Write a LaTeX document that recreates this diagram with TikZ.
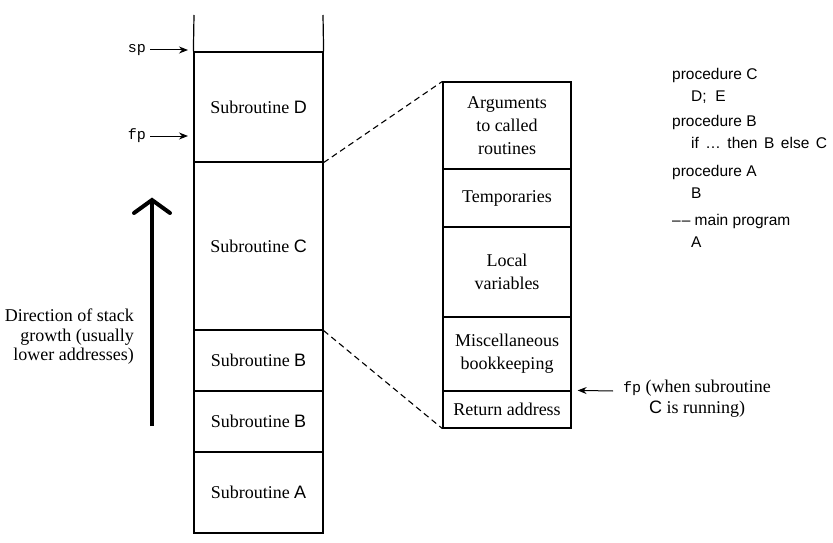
\documentclass[tikz,border=0pt]{standalone}
\usepackage{fontspec}
\setmainfont{Liberation Serif}
\setsansfont{Liberation Sans}
\setmonofont{Liberation Mono}
\usetikzlibrary{arrows.meta}
\tikzset{
  frame/.style={draw, line width=1.2pt, rectangle, inner sep=0pt, align=center,
                font=\fontsize{18}{23}\selectfont},
  lstack/.style={frame, minimum width=129pt},
  rstack/.style={frame, minimum width=128pt},
  ptr/.style={line width=1pt, -{Stealth[length=9pt,width=7pt]}},
  zoomline/.style={line width=1.1pt, dashed, dash pattern=on 6pt off 4pt},
  code/.style={anchor=base west, inner sep=0pt, font=\sffamily\fontsize{15.5}{18}\selectfont},
  mono/.style={inner sep=0pt, font=\ttfamily\fontsize{15}{16}\selectfont},
}
\begin{document}
\begin{tikzpicture}[x=1pt,y=-1pt]
\useasboundingbox (0,0) rectangle (833,543);
% left stack
\node[lstack, minimum height=110pt] (D) at (258.5,107) {Subroutine \textsf{D}};
\node[lstack, minimum height=168pt] (C) at (258.5,246) {Subroutine \textsf{C}};
\node[lstack, minimum height=61pt] (B1) at (258.5,360.5) {Subroutine \textsf{B}};
\node[lstack, minimum height=61pt] (B2) at (258.5,421.5) {Subroutine \textsf{B}};
\node[lstack, minimum height=81pt] (A) at (258.5,492.5) {Subroutine \textsf{A}};
\coordinate (tl) at (194,15);
\coordinate (tr) at (323,15);
\draw[line width=1.2pt] (tl) -- (D.north west);
\draw[line width=1.2pt] (tr) -- (D.north east);
% sp / fp pointers
\node[mono, anchor=east] (sp) at (146,50) {sp};
\node[mono, anchor=east] (fp) at (146,136) {fp};
\coordinate (spt) at (188,50);
\coordinate (fpt) at (188,136);
\draw[ptr] ([xshift=4pt]sp.east) -- (spt);
\draw[ptr] ([xshift=4pt]fp.east) -- (fpt);
% direction arrow
\coordinate (dirbot) at (152,426);
\coordinate (dirtop) at (152,200);
\draw[line width=4pt] (dirbot) -- (dirtop);
\draw[line width=4pt, line cap=round, line join=miter] (134,213) -- (dirtop) -- (170,213);
\node[anchor=east, align=right, inner sep=0pt, font=\fontsize{18}{19.5}\selectfont] (dir) at (134,337)
  {Direction of stack\\growth (usually\\lower addresses)};
% right stack
\node[rstack, minimum height=87pt] (args) at (507,125.5) {Arguments\\to called\\routines};
\node[rstack, minimum height=58pt] (temp) at (507,198) {Temporaries};
\node[rstack, minimum height=90pt] (loc) at (507,272) {Local\\variables};
\node[rstack, minimum height=74pt] (misc) at (507,354) {Miscellaneous\\bookkeeping};
\node[rstack, minimum height=37pt] (ret) at (507,409.5) {Return address};
% dashed zoom lines
\draw[zoomline] (D.south east) -- (args.north west);
\draw[zoomline] (C.south east) -- (ret.south west);
% fp note
\node[align=center, inner sep=0pt, font=\fontsize{18}{21}\selectfont] (fpnote) at (697,399)
  {\texttt{\fontsize{15}{16}\selectfont fp} (when subroutine\\\textsf{C} is running)};
\coordinate (fpr) at (613,391);
\draw[ptr] (fpr) -- ([xshift=6pt]ret.north east);
% code
\node[code] (l1) at (672,80) {procedure C};
\node[code] (l2) at (691,102) {D;\ \ E};
\node[code] (l3) at (672,126) {procedure B};
\node[code] (l4) at (691,148) {\spaceskip=6.5pt if … then B else C};
\node[code] (l5) at (672,176) {procedure A};
\node[code] (l6) at (691,198) {B};
\node[code] (l7) at (672,225) {–\kern1pt– main program};
\node[code] (l8) at (691,247) {A};
\end{tikzpicture}
\end{document}
